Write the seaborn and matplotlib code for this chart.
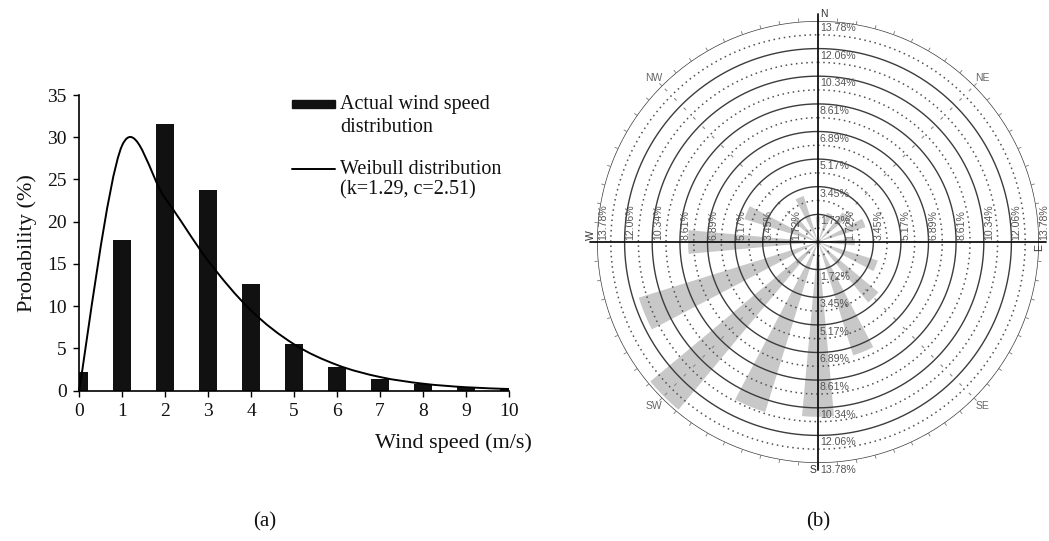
import numpy as np
import pandas as pd
import matplotlib
matplotlib.use("Agg")
import matplotlib.pyplot as plt
import seaborn as sns
from matplotlib.path import Path
from matplotlib.patches import PathPatch, Rectangle
from matplotlib.lines import Line2D

# ---- (a) wind speed distribution ----
speed_bins = [0, 1, 2, 3, 4, 5, 6, 7, 8, 9, 10]
actual_pct = [2.2, 17.8, 31.6, 23.7, 12.6, 5.5, 2.8, 1.4, 0.75, 0.4, 0.2]
weibull_pct = [0.0, 29.0, 22.8, 15.4, 9.5, 5.5, 3.05, 1.62, 0.83, 0.41, 0.2]
y_ticks = [0, 5, 10, 15, 20, 25, 30, 35]

# ---- (b) wind rose ----
directions = ["N", "NNE", "NE", "ENE", "E", "ESE", "SE", "SSE",
              "S", "SSW", "SW", "WSW", "W", "WNW", "NW", "NNW"]
dir_freq = [1.6, 1.9, 2.4, 3.1, 2.3, 3.9, 4.9, 7.4,
            10.9, 11.1, 13.6, 11.7, 8.1, 4.8, 2.0, 3.0]
ring_values = [1.72, 3.45, 5.17, 6.89, 8.61, 10.34, 12.06, 13.78]
ring_labels = ["1.72%", "3.45%", "5.17%", "6.89%", "8.61%", "10.34%", "12.06%", "13.78%"]
compass_diag = ["NE", "SE", "SW", "NW"]

sns.set_theme(style="white")
plt.rcParams["font.family"] = ["Liberation Serif", "DejaVu Serif"]
SANS = ["Liberation Sans", "DejaVu Sans"]

W, H = 1049, 541
fig = plt.figure(figsize=(W / 100, H / 100), dpi=100)
fig.patch.set_facecolor("white")

# ---------------- histogram panel ----------------
x0, x1, ytop, ybot = 79, 509, 95, 390.7
ax = fig.add_axes([x0 / W, (H - ybot) / H, (x1 - x0) / W, (ybot - ytop) / H])
df = pd.DataFrame({"speed": speed_bins, "pct": actual_pct})
sns.barplot(data=df, x="speed", y="pct", native_scale=True, width=0.4,
            color="#111111", saturation=1, linewidth=0, errorbar=None, ax=ax)

# smoothed line through the Weibull values (cubic Bezier, Catmull-Rom tangents)
pts = np.column_stack([speed_bins, weibull_pct]).astype(float)
n = len(pts)
verts = [pts[0]]
codes = [Path.MOVETO]
for i in range(n - 1):
    p0 = pts[max(i - 1, 0)]
    p1 = pts[i]
    p2 = pts[i + 1]
    p3 = pts[min(i + 2, n - 1)]
    verts += [p1 + (p2 - p0) / 6.0, p2 - (p3 - p1) / 6.0, p2]
    codes += [Path.CURVE4] * 3
ax.add_patch(PathPatch(Path(verts, codes), fill=False, lw=1.4,
                       edgecolor="black", zorder=4, clip_on=False))

ax.set_xlim(0, 10)
ax.set_ylim(0, 35)
ax.set_xticks(speed_bins)
ax.set_xticklabels([str(v) for v in speed_bins])
ax.set_yticks(y_ticks)
ax.set_yticklabels([str(v) for v in y_ticks])
sns.despine(ax=ax)
for s in ("left", "bottom"):
    ax.spines[s].set_linewidth(1.2)
    ax.spines[s].set_color("black")
ax.tick_params(direction="out", length=4, width=1.0, color="black",
               labelsize=14, pad=5, labelcolor="#111111")
ax.tick_params(axis="x", bottom=True)
ax.tick_params(axis="y", left=True)
ax.set_xlabel("")
ax.set_ylabel("Probability (%)", fontsize=16, color="#111111", labelpad=7)
ax.text((453 - x0) / (x1 - x0), -(443 - ybot) / (ybot - ytop), "Wind speed (m/s)",
        transform=ax.transAxes, ha="center", va="center", fontsize=16, color="#111111")

# legend drawn in axes coordinates
def ax_x(px):
    return (px - x0) / (x1 - x0)

def ax_y(py):
    return (ybot - py) / (ybot - ytop)

ax.add_patch(Rectangle((ax_x(292), ax_y(108)), ax_x(335) - ax_x(292), ax_y(100) - ax_y(108),
                       transform=ax.transAxes, color="#111111", clip_on=False))
ax.add_line(Line2D([ax_x(292), ax_x(335)], [ax_y(169), ax_y(169)], transform=ax.transAxes,
                   color="black", lw=1.4, clip_on=False))
for txt, py in [("Actual wind speed", 105), ("distribution", 128),
                ("Weibull distribution", 169), ("(k=1.29, c=2.51)", 190)]:
    ax.text(ax_x(340), ax_y(py), txt, transform=ax.transAxes, ha="left", va="center",
            fontsize=14.5, color="#111111")

fig.text(265 / W, 1 - 522 / H, "(a)", ha="center", va="center", fontsize=15, color="#111111")
fig.text(818 / W, 1 - 522 / H, "(b)", ha="center", va="center", fontsize=15, color="#111111")

# ---------------- wind rose panel ----------------
cx, cy, R = 818, 242, 221
pax = fig.add_axes([(cx - R) / W, (H - cy - R) / H, 2 * R / W, 2 * R / H], projection="polar")
pax.set_theta_zero_location("N")
pax.set_theta_direction(-1)
rmax = ring_values[-1]
pax.set_ylim(0, rmax)
pax.grid(False)
pax.set_xticks([])
pax.set_yticks([])
pax.spines["polar"].set_visible(False)
pax.set_facecolor("white")

theta_dir = np.deg2rad(np.arange(len(directions)) * 22.5)
pax.bar(theta_dir, dir_freq, width=np.deg2rad(10.5), color="#c8c8c8",
        edgecolor="none", zorder=1)

th = np.linspace(0, 2 * np.pi, 721)
step = ring_values[0]
for r in ring_values:
    pax.plot(th, np.full_like(th, r), color="#3c3c3c", lw=1.0, zorder=3)
for r in ring_values:
    rm = r - step / 2
    pax.plot(th, np.full_like(th, rm), color="#505050", lw=1.1,
             ls=(0, (1.0, 2.4)), zorder=3)

# main compass axes
for t in (0, np.pi / 2, np.pi, 3 * np.pi / 2):
    pax.plot([t, t], [0, rmax * 1.03], color="#111111", lw=1.3, zorder=4, clip_on=False)
# diagonals
pax.vlines(np.deg2rad([45, 135, 225, 315]), 0, rmax, colors="#8a8a8a", lw=0.8,
           linestyles=(0, (3, 9)), zorder=2)
# dial ticks round the outer ring
pax.vlines(np.deg2rad(np.arange(0, 360, 5)), rmax, rmax * 1.015, colors="#777777",
           lw=0.6, zorder=2, clip_on=False)

lab_kw = dict(textcoords="offset pixels", fontsize=7.6, color="#555555",
              family=SANS, zorder=5, annotation_clip=False)
for r, lab in zip(ring_values, ring_labels):
    pax.annotate(lab, xy=(0, r), xytext=(2, -2), ha="left", va="top", **lab_kw)
    pax.annotate(lab, xy=(np.pi, r), xytext=(2, -2), ha="left", va="top", **lab_kw)
    pax.annotate(lab, xy=(np.pi / 2, r), xytext=(0, 2), ha="left", va="bottom",
                 rotation=90, **lab_kw)
    pax.annotate(lab, xy=(3 * np.pi / 2, r), xytext=(1, 2), ha="left", va="bottom",
                 rotation=90, **lab_kw)

dir_kw = dict(textcoords="offset pixels", fontsize=7.5, color="#333333",
              family=SANS, zorder=5, annotation_clip=False)
pax.annotate("N", xy=(0, rmax), xytext=(2, 2), ha="left", va="bottom", **dir_kw)
pax.annotate("S", xy=(np.pi, rmax), xytext=(-2, -2), ha="right", va="top", **dir_kw)
pax.annotate("E", xy=(np.pi / 2, rmax), xytext=(0, -2), ha="center", va="top",
             rotation=90, **dir_kw)
pax.annotate("W", xy=(3 * np.pi / 2, rmax), xytext=(-1, 2), ha="right", va="bottom",
             rotation=90, **dir_kw)
for name, ang in zip(compass_diag, [45, 135, 225, 315]):
    pax.annotate(name, xy=(np.deg2rad(ang), rmax * 1.05), xytext=(0, 0),
                 ha="center", va="center", **dict(dir_kw, color="#666666"))

fig.savefig("out.png", dpi=100, facecolor="white")
